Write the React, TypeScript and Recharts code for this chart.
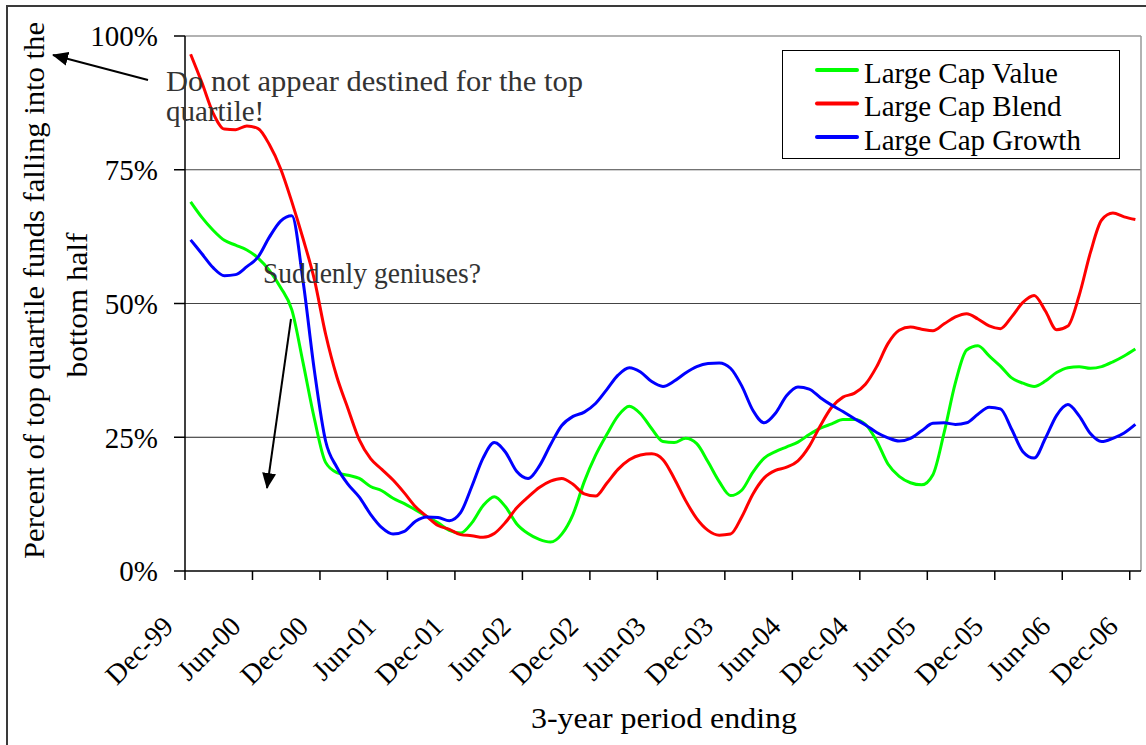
import React from 'react';
import { LineChart, Line, XAxis, YAxis, ReferenceLine, Legend } from 'recharts';

const FONT = "'Liberation Serif', 'Times New Roman', serif";

const tickLabels = ['Dec-99', 'Jun-00', 'Dec-00', 'Jun-01', 'Dec-01', 'Jun-02', 'Dec-02', 'Jun-03', 'Dec-03', 'Jun-04', 'Dec-04', 'Jun-05', 'Dec-05', 'Jun-06', 'Dec-06'];
const yTicks = [0, 25, 50, 75, 100];

const seriesNames = ['Large Cap Value', 'Large Cap Blend', 'Large Cap Growth'];
const seriesColors = ['#00FF00', '#FF0000', '#0000FF'];

// monthly, Dec-99 .. Dec-06
const largeCapValue = [
  69.0, 66.1, 63.7, 61.8, 60.9, 60.0, 58.5, 56.2, 53.0, 48.8,
  38.9, 28.5, 20.3, 18.4, 17.9, 17.3, 15.8, 15.0, 13.6, 12.6,
  11.4, 10.2, 9.0, 7.6, 7.1, 9.0, 12.2, 13.9, 12.0, 8.8,
  7.0, 5.9, 5.4, 6.9, 10.6, 16.7, 21.6, 25.5, 29.0, 30.8,
  29.4, 26.6, 24.2, 24.0, 24.8, 23.8, 20.4, 16.7, 14.1, 15.1,
  18.5, 21.1, 22.3, 23.2, 24.1, 25.5, 26.7, 27.5, 28.3, 28.3,
  27.4, 24.3, 20.0, 17.7, 16.5, 16.1, 18.0, 25.9, 35.2, 41.3,
  42.1, 40.2, 38.3, 36.1, 35.1, 34.5, 35.5, 37.1, 38.0, 38.2,
  37.9, 38.2, 39.1, 40.2, 41.5,
];
const largeCapBlend = [
  96.6, 91.3, 85.6, 82.6, 82.5, 83.2, 82.7, 79.7, 75.2, 69.0,
  62.1, 54.5, 44.3, 36.3, 30.3, 24.5, 21.0, 19.0, 17.0, 14.6,
  12.0, 10.2, 8.5, 7.8, 6.8, 6.6, 6.3, 7.0, 9.1, 11.8,
  13.8, 15.6, 16.8, 17.3, 16.2, 14.4, 14.0, 16.4, 19.0, 20.8,
  21.7, 21.9, 20.8, 17.3, 13.2, 9.8, 7.6, 6.7, 6.9, 10.1,
  14.4, 17.4, 18.8, 19.4, 20.6, 23.3, 27.2, 30.6, 32.5, 33.2,
  34.9, 38.2, 42.5, 45.0, 45.6, 45.2, 44.9, 46.2, 47.5, 48.1,
  47.1, 45.8, 45.3, 47.5, 50.2, 51.5, 48.6, 45.1, 45.8, 51.5,
  59.5, 65.6, 66.9, 66.2, 65.7,
];
const largeCapGrowth = [
  61.9, 59.3, 56.7, 55.2, 55.4, 56.9, 58.7, 62.4, 65.4, 66.4,
  54.1, 37.5, 24.3, 19.4, 16.2, 13.8, 10.6, 8.1, 6.9, 7.4,
  9.3, 10.1, 10.0, 9.4, 10.9, 15.8, 21.1, 24.0, 22.2, 18.6,
  17.3, 19.6, 23.6, 27.2, 28.9, 29.7, 31.3, 33.9, 36.6, 38.0,
  37.2, 35.4, 34.5, 35.5, 37.0, 38.2, 38.8, 38.9, 37.9, 34.6,
  30.0, 27.7, 29.5, 32.8, 34.4, 34.0, 32.4, 31.0, 29.8, 28.5,
  27.3, 25.9, 24.9, 24.3, 24.8, 26.2, 27.6, 27.7, 27.4, 27.7,
  29.3, 30.6, 30.3, 26.5, 22.3, 21.1, 24.8, 29.1, 31.1, 29.0,
  25.7, 24.2, 24.8, 25.8, 27.4,
];

const data = largeCapValue.map((v, i) => ({
  x: i + 0.5,
  value: v,
  blend: largeCapBlend[i],
  growth: largeCapGrowth[i],
}));
const xTicks = tickLabels.map((_, i) => i * 6);
const seriesKeys = ['value', 'blend', 'growth'];

const XTick = (props: any) => {
  const { x, y, payload } = props;
  const label = tickLabels[Math.round(payload.value / 6)];
  const ax = x - 10;
  const ay = y + 48;
  return (
    <text x={ax} y={ay} transform={`rotate(-45, ${ax}, ${ay})`} textAnchor="end" fontFamily={FONT} fontSize={28} fill="#000">
      {label}
    </text>
  );
};

const LegendBox = () => (
  <svg width={338} height={109} style={{ display: 'block' }}>
    <rect x={0.5} y={0.5} width={337} height={108} fill="#fff" stroke="#000" strokeWidth={1} />
    {seriesNames.map((n, i) => (
      <g key={n}>
        <line x1={35} x2={75} y1={20 + i * 33.5} y2={20 + i * 33.5} stroke={seriesColors[i]} strokeWidth={4} strokeLinecap="round" />
        <text x={82} y={32.5 + i * 33.5} fontFamily={FONT} fontSize={29} fill="#000">{n}</text>
      </g>
    ))}
  </svg>
);

export default function App() {
  return (
    <div style={{ position: 'absolute', left: 0, top: 0, width: 1146, height: 745, overflow: 'hidden', background: '#fff', fontFamily: FONT }}>
      <div style={{ position: 'absolute', left: 6, top: 5, width: 1160, height: 760, border: '2px solid #3a3a3a', boxSizing: 'border-box' }} />
      <div style={{ position: 'absolute', left: 0, top: 0 }}>
        <LineChart width={1146} height={745} data={data} margin={{ top: 36, right: 5, bottom: 0, left: 0 }}>
          <XAxis
            type="number"
            dataKey="x"
            domain={[0, 85]}
            ticks={xTicks}
            interval={0}
            tickSize={9}
            tickMargin={0}
            height={174}
            axisLine={{ stroke: '#000', strokeWidth: 1.5 }}
            tickLine={{ stroke: '#000', strokeWidth: 1.5 }}
            tick={<XTick />}
            allowDecimals
          />
          <YAxis
            type="number"
            domain={[0, 100]}
            ticks={yTicks}
            interval={0}
            width={185}
            tickSize={11}
            tickMargin={16}
            tickFormatter={(v: number) => `${v}%`}
            axisLine={{ stroke: '#000', strokeWidth: 1.5 }}
            tickLine={{ stroke: '#000', strokeWidth: 1.5 }}
            tick={{ fill: '#000', fontSize: 29, fontFamily: FONT }}
          />
          <ReferenceLine y={25} stroke="#222" strokeWidth={1} />
          <ReferenceLine y={50} stroke="#444" strokeWidth={1} />
          <ReferenceLine y={75} stroke="#444" strokeWidth={1} />
          <ReferenceLine y={100} stroke="#999" strokeWidth={1.5} />
          <ReferenceLine x={85} stroke="#999" strokeWidth={1.5} />
          <Legend layout="vertical" align="center" verticalAlign="middle" content={<LegendBox />} wrapperStyle={{ position: 'absolute', left: 782, top: 50, width: 338, height: 109 }} />
          {seriesKeys.map((k, i) => (
            <Line key={k} dataKey={k} name={seriesNames[i]} type="monotone" stroke={seriesColors[i]} strokeWidth={3} dot={false} activeDot={false} isAnimationActive={false} />
          ))}
        </LineChart>
      </div>
      <svg width={1146} height={745} style={{ position: 'absolute', left: 0, top: 0, pointerEvents: 'none' }}>
        <defs>
          <marker id="ah2" markerWidth="16" markerHeight="14" refX="15" refY="7" orient="auto" markerUnits="userSpaceOnUse">
            <path d="M0,0 L16,7 L0,14 Z" fill="#000" />
          </marker>
        </defs>
        <text transform="translate(44, 290.5) rotate(-90)" textAnchor="middle" fontFamily={FONT} fontSize={29} fill="#000" textLength={537} lengthAdjust="spacingAndGlyphs">
          Percent of top quartile funds falling into the
        </text>
        <text transform="translate(87, 305) rotate(-90)" textAnchor="middle" fontFamily={FONT} fontSize={29} fill="#000" textLength={145} lengthAdjust="spacingAndGlyphs">
          bottom half
        </text>
        <text x={531} y={728} fontFamily={FONT} fontSize={29} fill="#000" textLength={266} lengthAdjust="spacingAndGlyphs">3-year period ending</text>
        <text x={166} y={91} fontFamily={FONT} fontSize={29} fill="#333" textLength={417} lengthAdjust="spacingAndGlyphs">Do not appear destined for the top</text>
        <text x={166} y={121} fontFamily={FONT} fontSize={29} fill="#333">quartile!</text>
        <text x={263} y={283} fontFamily={FONT} fontSize={29} fill="#333" textLength={218} lengthAdjust="spacingAndGlyphs">Suddenly geniuses?</text>
        <line x1={148} y1={80} x2={53} y2={55} stroke="#000" strokeWidth={2} markerEnd="url(#ah2)" />
        <line x1={291} y1={319} x2={267} y2={488} stroke="#000" strokeWidth={2} markerEnd="url(#ah2)" />
      </svg>
    </div>
  );
}
